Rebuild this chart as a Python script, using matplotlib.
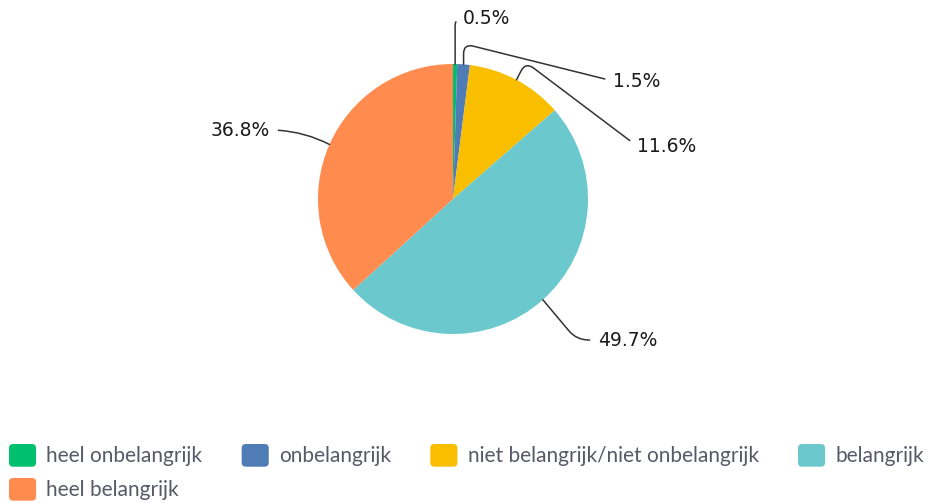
import matplotlib.pyplot as plt
from matplotlib.patches import FancyBboxPatch
from matplotlib.legend_handler import HandlerPatch
import numpy as np

# data
categories = ['heel onbelangrijk', 'onbelangrijk', 'niet belangrijk/niet onbelangrijk',
              'belangrijk', 'heel belangrijk']
values = [0.5, 1.5, 11.6, 49.7, 36.8]
colors = ['#00BF6F', '#507CB6', '#F9BE00', '#6BC8CD', '#FF8B4F']

W, H = 929, 503
fig = plt.figure(figsize=(W / 100, H / 100), dpi=100)
ax = fig.add_axes([0, 0, 1, 1])

cx, cy, r = 453, H - 199, 135
wedges, _ = ax.pie(values, colors=colors, startangle=90, counterclock=False,
                   center=(cx, cy), radius=r, frame=True,
                   wedgeprops=dict(linewidth=0))
ax.set_xlim(0, W)
ax.set_ylim(0, H)
ax.set_aspect('equal')
ax.axis('off')

# label positions (pixels, y from top), alignment, connection style
label_pos = [(463, 18, 'left', 'angle,angleA=0,angleB=90,rad=8'),
             (613, 81, 'left', 'angle,angleA=-14,angleB=90,rad=10'),
             (637, 146, 'left', 'angle,angleA=-37,angleB=63,rad=10'),
             (598, 340, 'left', 'angle,angleA=0,angleB=130,rad=12'),
             (270, 130, 'right', 'arc3,rad=-0.12')]

for w, v, (tx, ty, ha, cs) in zip(wedges, values, label_pos):
    ang = np.deg2rad((w.theta1 + w.theta2) / 2)
    px, py = cx + r * np.cos(ang), cy + r * np.sin(ang)
    ax.annotate(f'{v}%', xy=(px, py), xytext=(tx, H - ty), ha=ha, va='center',
                fontsize=13.5, family='DejaVu Sans', color='#1a1a1a',
                arrowprops=dict(arrowstyle='-', color='#333333', lw=1.1,
                                connectionstyle=cs, shrinkA=4, shrinkB=0,
                                relpos=(0 if ha == 'left' else 1, 0.5)))


class RoundHandler(HandlerPatch):
    def create_artists(self, legend, orig_handle, xdescent, ydescent,
                       width, height, fontsize, trans):
        p = FancyBboxPatch((-xdescent, -ydescent), width, height,
                           boxstyle='round,pad=0,rounding_size=3',
                           facecolor=orig_handle.get_facecolor(), edgecolor='none',
                           transform=trans)
        return [p]


# legend fills columns first, so reorder to get row-wise layout
order = [0, 4, 1, 2, 3]
leg = fig.legend([wedges[i] for i in order], [categories[i] for i in order],
                 ncol=4, loc='upper left',
                 bbox_to_anchor=(9 / W, 1 - 444 / H), frameon=False,
                 borderpad=0, borderaxespad=0,
                 handler_map={w: RoundHandler() for w in wedges},
                 handlelength=1.3, handleheight=1.3, handletextpad=0.5,
                 columnspacing=1.88, labelspacing=0.54,
                 prop={'family': ['Lato', 'DejaVu Sans'], 'size': 15})
for t in leg.get_texts():
    t.set_color('#555a66')

fig.savefig('out.png', dpi=100)
